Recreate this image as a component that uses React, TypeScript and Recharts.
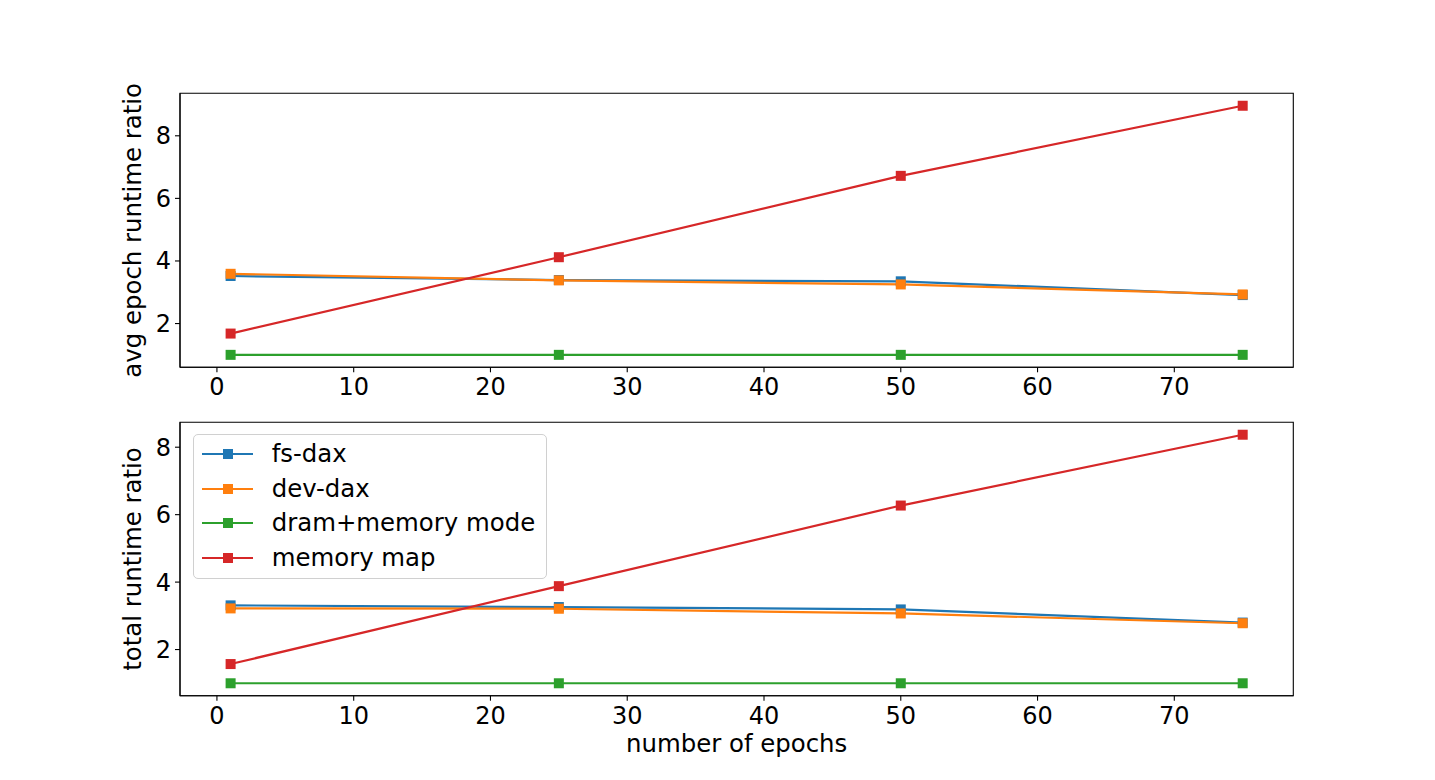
import React from 'react';
import { LineChart, Line, XAxis, YAxis, Legend, ReferenceArea } from 'recharts';

// ---- data ----
const epochs = [1, 25, 50, 75];

const avgFsDax = [3.52, 3.39, 3.35, 2.91];
const avgDevDax = [3.59, 3.38, 3.25, 2.93];
const avgDramMemoryMode = [1.0, 1.0, 1.0, 1.0];
const avgMemoryMap = [1.68, 4.12, 6.72, 8.96];

const totalFsDax = [3.31, 3.26, 3.19, 2.8];
const totalDevDax = [3.22, 3.21, 3.07, 2.78];
const totalDramMemoryMode = [1.0, 1.0, 1.0, 1.0];
const totalMemoryMap = [1.57, 3.88, 6.27, 8.37];

const xTicks = [0, 10, 20, 30, 40, 50, 60, 70];
const yTicks = [2, 4, 6, 8];

const seriesNames = ['fs-dax', 'dev-dax', 'dram+memory mode', 'memory map'];
const seriesKeys = ['fsDax', 'devDax', 'dram', 'mmap'];
const seriesColors = ['#1f77b4', '#ff7f0e', '#2ca02c', '#d62728'];

const avgRows = epochs.map((e, i) => ({
  epoch: e,
  fsDax: avgFsDax[i],
  devDax: avgDevDax[i],
  dram: avgDramMemoryMode[i],
  mmap: avgMemoryMap[i],
}));

const totalRows = epochs.map((e, i) => ({
  epoch: e,
  fsDax: totalFsDax[i],
  devDax: totalDevDax[i],
  dram: totalDramMemoryMode[i],
  mmap: totalMemoryMap[i],
}));

// matplotlib-like 5% margins
function padded(values: number[]): [number, number] {
  const lo = Math.min(...values);
  const hi = Math.max(...values);
  const p = (hi - lo) * 0.05;
  return [lo - p, hi + p];
}

const xDomain = padded(epochs);
const avgDomain = padded([...avgFsDax, ...avgDevDax, ...avgDramMemoryMode, ...avgMemoryMap]);
const totalDomain = padded([...totalFsDax, ...totalDevDax, ...totalDramMemoryMode, ...totalMemoryMap]);

const FONT = "'DejaVu Sans', sans-serif";
const tickStyle = { fill: '#000', fontSize: 24, fontFamily: FONT };
const spine = { stroke: '#000', strokeWidth: 1.1 };

const makeDot = (color: string) => (props: any) => {
  const { cx, cy, index } = props;
  if (cx == null || cy == null) return <g key={`d-${index}`} />;
  return <rect key={`d-${index}`} x={cx - 5} y={cy - 5} width={10} height={10} fill={color} />;
};

const LegendBox = () => (
  <div
    style={{
      width: '100%',
      height: '100%',
      boxSizing: 'border-box',
      border: '1px solid #d0d0d0',
      borderRadius: 5,
      background: 'rgba(255,255,255,0.8)',
      paddingTop: 2,
      fontFamily: FONT,
      fontSize: 24.4,
      color: '#000',
    }}
  >
    {seriesNames.map((name, i) => (
      <div key={name} style={{ display: 'flex', alignItems: 'center', height: 34.4 }}>
        <svg width={78} height={34} style={{ display: 'block', flex: 'none' }}>
          <line x1={8} x2={59} y1={17} y2={17} stroke={seriesColors[i]} strokeWidth={2.2} />
          <rect x={29} y={12} width={10} height={10} fill={seriesColors[i]} />
        </svg>
        <span style={{ whiteSpace: 'nowrap', lineHeight: '34px' }}>{name}</span>
      </div>
    ))}
  </div>
);

function Panel(props: {
  rows: any[];
  domain: [number, number];
  ylabel: string;
  height: number;
  margin: any;
  xHeight: number;
  xlabel?: string;
  legend?: boolean;
}) {
  const { rows, domain, ylabel, height, margin, xHeight, xlabel, legend } = props;
  return (
    <LineChart width={1435} height={height} data={rows} margin={margin} style={{ fontFamily: FONT }}>
      <XAxis
        dataKey="epoch"
        type="number"
        domain={xDomain}
        ticks={xTicks}
        interval={0}
        allowDataOverflow
        tick={tickStyle}
        tickLine={spine}
        axisLine={spine}
        tickSize={5}
        tickMargin={6}
        height={xHeight}
        label={
          xlabel
            ? { value: xlabel, position: 'insideBottom', offset: 13.7, fill: '#000', fontSize: 24.4, fontFamily: FONT }
            : undefined
        }
      />
      <YAxis
        type="number"
        domain={domain}
        ticks={yTicks}
        interval={0}
        allowDataOverflow
        tick={tickStyle}
        tickLine={spine}
        axisLine={spine}
        tickSize={5}
        tickMargin={4}
        width={95}
        label={{ value: ylabel, angle: -90, position: 'center', fill: '#000', fontSize: 24.4, fontFamily: FONT }}
      />
      <ReferenceArea
        x1={xDomain[0]}
        x2={xDomain[1]}
        y1={domain[0]}
        y2={domain[1]}
        fill="none"
        fillOpacity={0}
        stroke="#000"
        strokeWidth={1.1}
        ifOverflow="visible"
      />
      {seriesKeys.map((k, i) => (
        <Line
          key={k}
          dataKey={k}
          name={seriesNames[i]}
          stroke={seriesColors[i]}
          strokeWidth={2.2}
          dot={makeDot(seriesColors[i])}
          activeDot={false}
          isAnimationActive={false}
        />
      ))}
      {legend ? (
        <Legend
          layout="vertical"
          align="center"
          verticalAlign="middle"
          content={() => <LegendBox />}
          wrapperStyle={{ left: 192.7, top: 34.3, width: 354, height: 145, right: 'auto', bottom: 'auto' }}
        />
      ) : null}
    </LineChart>
  );
}

export default function App() {
  return (
    <div style={{ position: 'absolute', left: 0, top: 0, width: 1435, height: 780, background: '#fff' }}>
      <div style={{ position: 'absolute', left: 0, top: 0 }}>
        <Panel
          rows={avgRows}
          domain={avgDomain}
          ylabel="avg epoch runtime ratio"
          height={410}
          xHeight={40}
          margin={{ top: 93.3, right: 141.7, left: 85, bottom: 410 - 367.3 - 40 }}
        />
      </div>
      <div style={{ position: 'absolute', left: 0, top: 400 }}>
        <Panel
          rows={totalRows}
          domain={totalDomain}
          ylabel="total runtime ratio"
          height={380}
          xHeight={70}
          xlabel="number of epochs"
          legend
          margin={{ top: 22.3, right: 141.7, left: 85, bottom: 380 - 295.7 - 70 }}
        />
      </div>
    </div>
  );
}
